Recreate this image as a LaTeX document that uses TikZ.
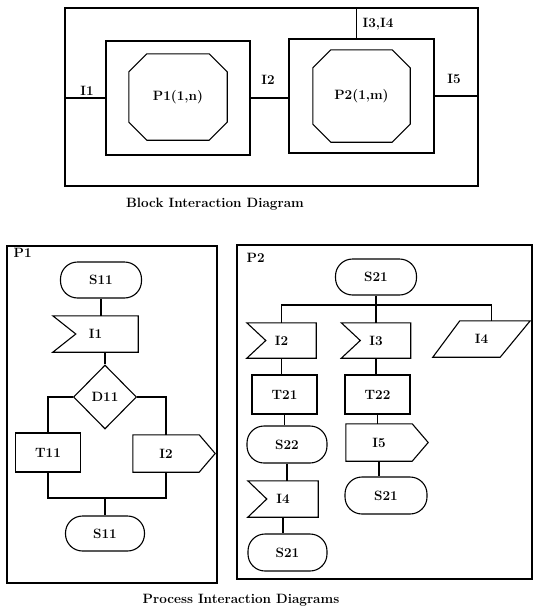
\documentclass[tikz,border=0pt]{standalone}
\usetikzlibrary{calc,shapes.geometric}
\begin{document}
\begin{tikzpicture}[x=1pt,y=-1pt,
  every node/.style={font=\fontsize{13.5}{15}\selectfont\bfseries},
  ln/.style={line width=1.1pt},
  box/.style={rectangle,draw,ln,inner sep=0pt},
  term/.style={rectangle,draw,ln,rounded corners=17pt,inner sep=0pt},
  ghost/.style={rectangle,inner sep=0pt},
  lbl/.style={inner sep=1pt}]
\useasboundingbox (0,0) rectangle (534,608);
% ---------- Block interaction diagram ----------
\node[box,minimum width=413pt,minimum height=178pt] (outer) at (271.5,97) {};
\node[box,minimum width=144pt,minimum height=114pt] (p1box) at (178,98) {};
\node[box,minimum width=145pt,minimum height=114pt] (p2box) at (361.5,96) {};
\node[ghost,minimum width=98pt,minimum height=86pt] (p1oct) at (178,97) {P1(1,n)};
\node[ghost,minimum width=97pt,minimum height=92pt] (p2oct) at (361.5,96) {P2(1,m)};
\foreach \o/\c in {p1oct/18,p2oct/18}{
  \draw[ln] ($(\o.north west)+(\c,0)$) -- ($(\o.north east)+(-\c,0)$) -- ($(\o.north east)+(0,\c)$)
    -- ($(\o.south east)+(0,-\c)$) -- ($(\o.south east)+(-\c,0)$) -- ($(\o.south west)+(\c,0)$)
    -- ($(\o.south west)+(0,-\c)$) -- ($(\o.north west)+(0,\c)$) -- cycle;}
\draw[ln] (p1box.west) -- (p1box.west -| outer.west);
\draw[ln] (p1box.east) -- (p1box.east -| p2box.west);
\draw[ln] (p2box.east) -- (p2box.east -| outer.east);
\coordinate (c34) at ($(p2box.north west)+(68,0)$);
\draw[ln] (c34) -- (c34 |- outer.north);
\node[lbl] (lI1) at (87,91) {I1};
\node[lbl] (lI2) at (268,80) {I2};
\node[lbl] (lI5) at (454,79) {I5};
\node[lbl] (lI34) at (378,24) {I3,I4};
\node[lbl] (cap1) at (215,204) {Block Interaction Diagram};
% ---------- Process P1 ----------
\node[box,minimum width=210pt,minimum height=337pt] (fr1) at (112,414.5) {};
\node[lbl,anchor=north west] (lp1) at (fr1.north west) [xshift=6pt,yshift=-2pt] {P1};
\node[term,minimum width=81pt,minimum height=36pt] (s11a) at (101,280) {S11};
\node[ghost,minimum width=85pt,minimum height=36pt] (i1a) at (95.5,334) {I1};
\draw[ln] (i1a.north west) -- (i1a.north east) -- (i1a.south east) -- (i1a.south west) -- ($(i1a.west)+(23,0)$) -- cycle;
\node[diamond,draw,ln,inner sep=0pt,minimum width=63pt,minimum height=64pt] (d11) at (105,397) {D11};
\node[box,minimum width=65pt,minimum height=39pt] (t11) at (48,452.5) {T11};
\node[ghost,minimum width=66pt,minimum height=37pt] (i2a) at (166,453.5) {I2};
\draw[ln] (i2a.north east) -- (i2a.north west) -- (i2a.south west) -- (i2a.south east) -- ($(i2a.east)+(16,0)$) -- cycle;
\node[term,minimum width=79pt,minimum height=35pt] (s11b) at (105,533.5) {S11};
\draw[ln] (s11a.south) -- (s11a.south |- i1a.north);
\draw[ln] (d11.north |- i1a.south) -- (d11.north);
\draw[ln] (d11.west) -| (t11.north);
\draw[ln] (d11.east) -| (i2a.north);
\coordinate (m1) at (105,498);
\draw[ln] (t11.south) |- (m1) -| (i2a.south);
\draw[ln] (m1) -- (s11b.north);
\node[lbl] (cap2) at (241,600) {Process Interaction Diagrams};
% ---------- Process P2 ----------
\node[box,minimum width=295pt,minimum height=334pt] (fr2) at (384.5,412) {};
\node[lbl,anchor=north west] (lp2) at (fr2.north west) [xshift=9pt,yshift=-8pt] {P2};
\node[term,minimum width=81pt,minimum height=36pt] (s21a) at (376,277) {S21};
\coordinate (bus) at (376,305);
\node[ghost,minimum width=69pt,minimum height=35pt] (i2b) at (281.5,340.5) {I2};
\node[ghost,minimum width=69pt,minimum height=35pt] (i3) at (376,340.5) {I3};
\foreach \o in {i2b,i3}{
  \draw[ln] (\o.north west) -- (\o.north east) -- (\o.south east) -- (\o.south west) -- ($(\o.west)+(19,0)$) -- cycle;}
\node[ghost,minimum width=97pt,minimum height=36pt] (i4p) at (481.5,339) {I4};
\draw[ln] ($(i4p.north west)+(27,0)$) -- (i4p.north east) -- ($(i4p.south east)+(-30,0)$) -- (i4p.south west) -- cycle;
\coordinate (i4top) at ($(i4p.north west)+(59,0)$);
\draw[ln] (s21a.south) -- (bus);
\draw[ln] (i2b.north) |- (bus) -| (i4top);
\draw[ln] (bus) -- (i3.north);
\node[box,minimum width=65pt,minimum height=39pt] (t21) at (284.5,394.5) {T21};
\node[box,minimum width=65pt,minimum height=39pt] (t22) at (377.5,394.5) {T22};
\node[term,minimum width=80pt,minimum height=37pt] (s22) at (287,444.5) {S22};
\node[ghost,minimum width=66pt,minimum height=37pt] (i5) at (379,442.5) {I5};
\draw[ln] (i5.north east) -- (i5.north west) -- (i5.south west) -- (i5.south east) -- ($(i5.east)+(16,0)$) -- cycle;
\node[term,minimum width=82pt,minimum height=37pt] (s21b) at (386,495.5) {S21};
\node[ghost,minimum width=70pt,minimum height=36pt] (i4b) at (283,499) {I4};
\draw[ln] (i4b.north west) -- (i4b.north east) -- (i4b.south east) -- (i4b.south west) -- ($(i4b.west)+(19,0)$) -- cycle;
\node[term,minimum width=79pt,minimum height=37pt] (s21c) at (287.5,552.5) {S21};
\draw[ln] (i2b.south) -- (i2b.south |- t21.north);
\draw[ln] (t21.south) -- (t21.south |- s22.north);
\draw[ln] (s22.south) -- (s22.south |- i4b.north);
\draw[ln] (i4b.south) -- (i4b.south |- s21c.north);
\draw[ln] (i3.south) -- (i3.south |- t22.north);
\draw[ln] (t22.south) -- (t22.south |- i5.north);
\draw[ln] (i5.south) -- (i5.south |- s21b.north);
\end{tikzpicture}
\end{document}
